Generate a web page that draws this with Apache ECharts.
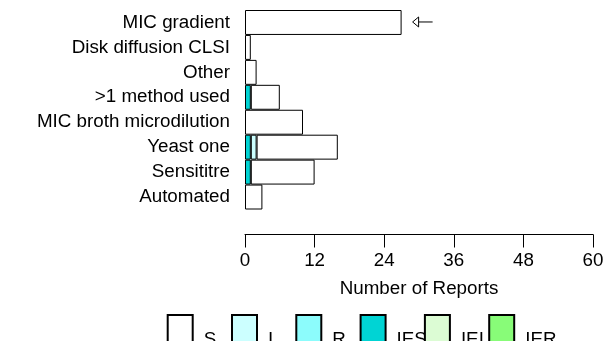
<!DOCTYPE html>
<html>
<head>
<meta charset="utf-8">
<script src="https://cdn.jsdelivr.net/npm/echarts@6/dist/echarts.min.js"></script>
<style>
	html, body { margin: 0; padding: 0; background: #fff; }
	#chart { width: 607px; height: 341px; }
</style>
</head>
<body>
<div id="chart"></div>
<script>
// 方法类别（自下而上）
var methods = ['Automated', 'Sensititre', 'Yeast one', 'MIC broth microdilution',
	'>1 method used', 'Other', 'Disk diffusion CLSI', 'MIC gradient'];
// 各类报告数
var valS   = [3, 11, 14, 10, 5, 2, 1, 27];
var valI   = [0, 0, 1, 0, 0, 0, 0, 0];
var valR   = [0, 0, 0, 0, 0, 0, 0, 0];
var valIES = [0, 1, 1, 0, 1, 0, 0, 0];
var valIEI = [0, 0, 0, 0, 0, 0, 0, 0];
var valIER = [0, 0, 0, 0, 0, 0, 0, 0];
var xTicks = [0, 12, 24, 36, 48, 60];
var legendNames = ['S', 'I', 'R', 'IES', 'IEI', 'IER'];
// 箭头标注位置
var arrowAt = [28.9, 'MIC gradient'];

var font = 'Liberation Sans, Arial, sans-serif';
var fs = 18.8;

function barSeries(name, data, color) {
	return {
		name: name,
		type: 'bar',
		stack: 'all',
		barCategoryGap: 0,
		// 0 不画（避免出现零宽度的边框线）
		data: data.map(function(v) { return v === 0 ? '-' : v; }),
		itemStyle: { color: color, borderColor: '#000', borderWidth: 1 },
		emphasis: { disabled: true }
	};
}

// 图例：每项固定间距（一个图例组件一项）
var legends = legendNames.map(function(n, i) {
	return {
		data: [n],
		left: 161.7 + i * 64.3,
		top: 309,
		itemWidth: 25,
		itemHeight: 50,
		itemGap: 0,
		icon: 'rect',
		selectedMode: false,
		textStyle: { color: '#000', fontFamily: font, fontSize: fs, padding: [0, 0, 0, 6] }
	};
});

var chart = echarts.init(document.getElementById('chart'));
var option = {
	animation: false,
	grid: { left: 245, right: 14, top: 10, height: 199.5 },
	xAxis: {
		type: 'value',
		min: xTicks[0],
		max: xTicks[xTicks.length - 1],
		interval: 12,
		offset: 25,
		splitLine: { show: false },
		axisLine: { show: true, lineStyle: { color: '#000', width: 1 } },
		axisTick: { show: true, length: 13, lineStyle: { color: '#000' } },
		axisLabel: { color: '#000', fontFamily: font, fontSize: fs, margin: 17 },
		name: 'Number of Reports',
		nameLocation: 'middle',
		nameGap: 45,
		nameTextStyle: { color: '#000', fontFamily: font, fontSize: fs }
	},
	yAxis: {
		type: 'category',
		data: methods,
		axisLine: { show: false },
		axisTick: { show: false },
		axisLabel: { color: '#000', fontFamily: font, fontSize: fs, margin: 15 }
	},
	legend: legends,
	series: [
		barSeries('IES', valIES, '#00d4d4'),
		barSeries('I', valI, '#ccffff'),
		barSeries('R', valR, '#8cfcfc'),
		barSeries('IEI', valIEI, '#dcfcd4'),
		barSeries('IER', valIER, '#88fc78'),
		barSeries('S', valS, '#ffffff'),
		{
			type: 'custom',
			name: 'arrow',
			data: [arrowAt],
			silent: true,
			renderItem: function(params, api) {
				var p = api.coord([api.value(0), arrowAt[1]]);
				var x = p[0], y = p[1] - 0.5;
				return {
					type: 'group',
					children: [{
						type: 'polygon',
						shape: { points: [[x, y], [x + 6, y - 5], [x + 6, y + 5]] },
						style: { fill: '#fff', stroke: '#000', lineWidth: 1 }
					}, {
						type: 'line',
						shape: { x1: x + 6, y1: y, x2: x + 20, y2: y },
						style: { stroke: '#000', lineWidth: 1 }
					}]
				};
			}
		}
	]
};
chart.setOption(option);
</script>
</body>
</html>
